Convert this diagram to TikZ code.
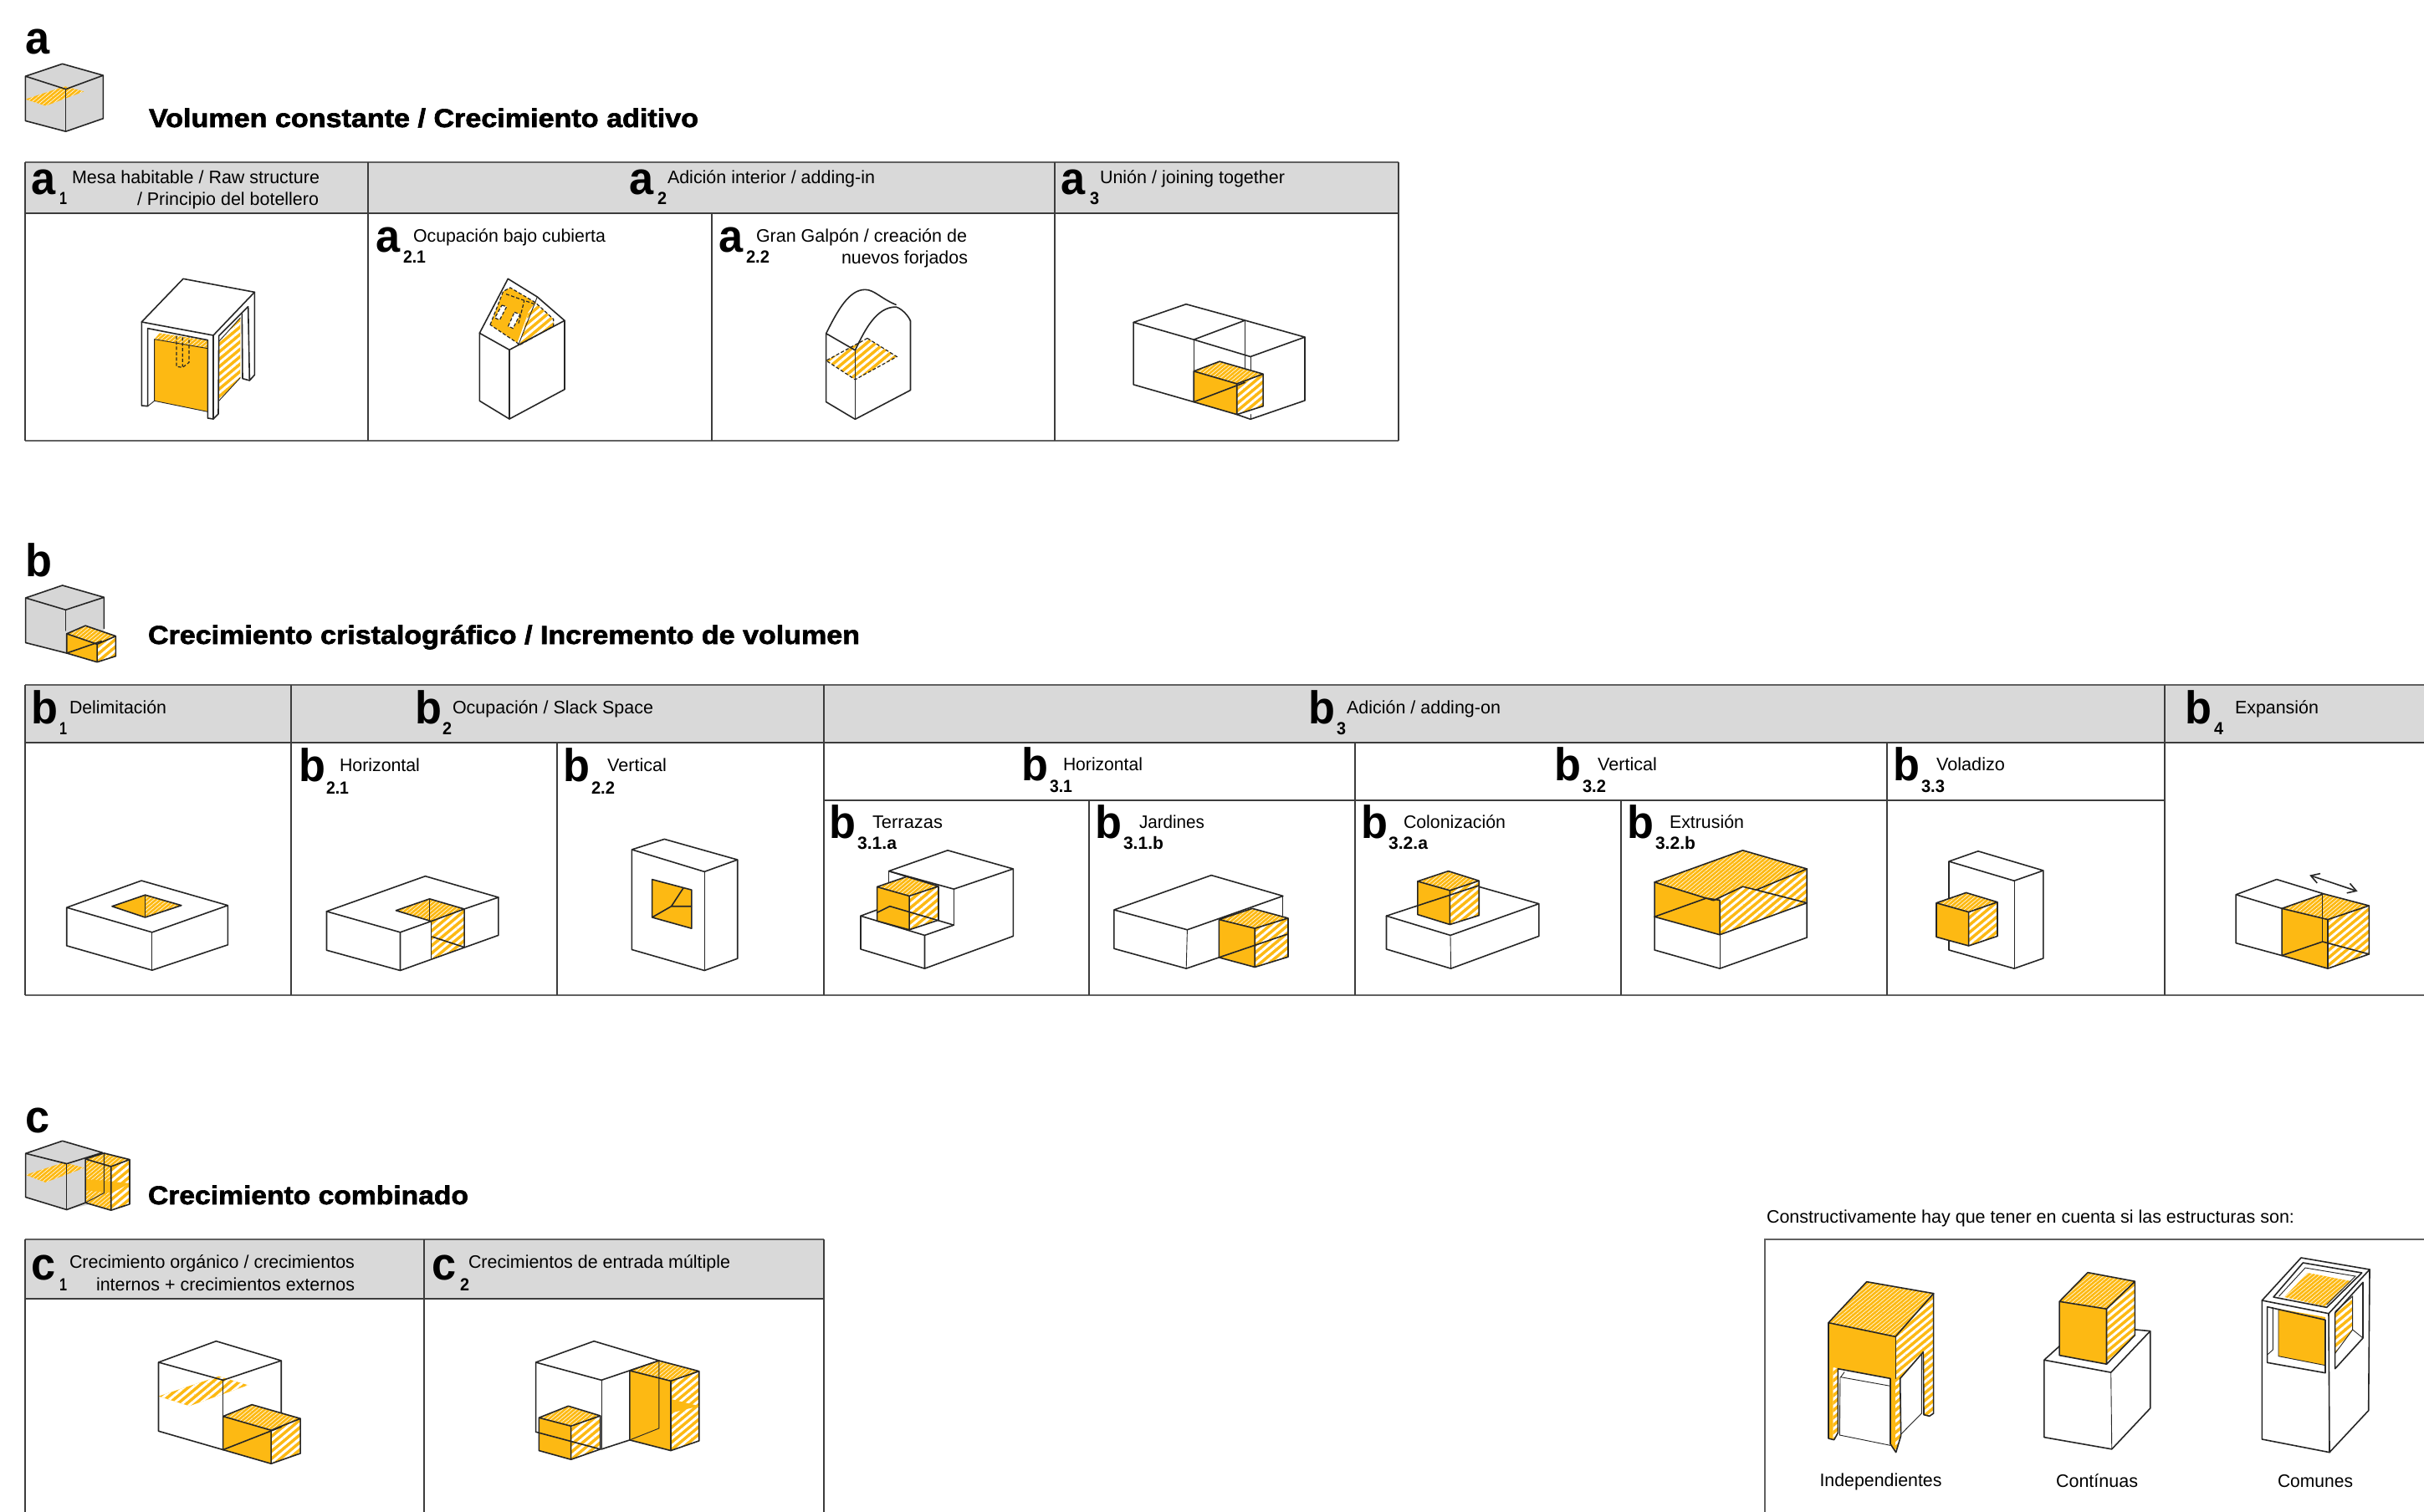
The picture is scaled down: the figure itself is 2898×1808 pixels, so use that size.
\documentclass[tikz,border=0pt]{standalone}
\usepackage{fontspec}
\usepackage{graphicx}
\setmainfont{Liberation Sans}
\newfontfamily\heavy[BoldFeatures={FakeBold=2}]{Liberation Sans}
\usetikzlibrary{patterns.meta,arrows.meta}
\definecolor{org}{HTML}{FDB913}
\definecolor{hdr}{HTML}{D9D9D9}
\definecolor{icn}{HTML}{D6D6D6}
\definecolor{rule}{HTML}{3C3C3C}
\definecolor{ink}{HTML}{262626}
\newlength\lw
\tikzset{
  z1/.style={x=.287pt,y=-.172pt},
  z2/.style={shift={(850,180)},x=.271pt,y=-.167pt},
  z3/.style={shift={(0,640)},x=.319pt,y=-.1785pt},
  z4/.style={shift={(980,800)},x=.306pt,y=-.1655pt},
  z5/.style={shift={(1920,800)},x=.312pt,y=-.1655pt},
  z6/.style={shift={(0,1290)},x=.319pt,y=-.1665pt},
  z7/.style={shift={(2080,1420)},x=.261pt,y=-.165pt},
  zt/.style={shift={(#1)},x=.16667pt,y=-.16667pt},
  ln/.style={draw=ink,line width=.8pt,line join=round,line cap=round},
  thn/.style={draw=ink,line width=.45pt,line cap=round},
  dsh/.style={draw=ink,line width=.6pt,dash pattern=on 2pt off 1.2pt},
  sol/.style={fill=org},
  hat/.style={preaction={fill=org},pattern={Lines[angle=40,distance=3.4pt,line width=1.5pt]},pattern color=white},
  tophat/.style={preaction={fill=org},pattern={Lines[angle=40,distance=1.8pt,line width=.3pt]},pattern color=white},
  grid/.style={draw=rule,line width=.7pt},
  gridh/.style={draw=black!62,line width=1.1pt},
  txt/.style={anchor=base west,inner sep=0pt,outer sep=0pt}
}
% label with a target width given in reference pixels
\newcommand\lbl[5]{\setlength\lw{#4pt}\lw=.5\lw
  \node[txt] (#1) at (#2,#3) {\resizebox{\lw}{\height}{\fontsize{10.8pt}{12pt}\selectfont #5}};}
\newcommand\hd[5]{\setlength\lw{#4pt}\lw=.5\lw
  \node[txt] (#1) at (#2,#3) {\resizebox{\lw}{\height}{\fontsize{15.5pt}{17pt}\selectfont\heavy\bfseries #5}};}
\newcommand\lett[4]{\node[txt,xshift=-1pt] (#1) at (#2,#3) {\scalebox{.95}[1]{\fontsize{27.5pt}{30pt}\selectfont\bfseries #4}};}
\newcommand\sub[5]{\setlength\lw{#4pt}\lw=.5\lw
  \node[txt,xshift=.5pt] (#1) at (#2,#3) {\resizebox{\lw}{\height}{\fontsize{10.5pt}{12pt}\selectfont\bfseries #5}};}
% cube: left-top, front-top, front-bottom, left-bottom, back-top, right-top, right-bottom
\newcommand\cubo[7]{
  \path[sol] #1--#2--#3--#4--cycle;
  \path[tophat] #1--#5--#6--#2--cycle;
  \path[hat] #2--#6--#7--#3--cycle;
  \draw[ln] #1--#2--#3--#4--cycle #1--#5--#6--#2 #6--#7--#3;
}
\begin{document}
\begin{tikzpicture}[x=.5pt,y=-.5pt]
\useasboundingbox (0,0) rectangle (2898,1808);
\fill[white] (0,0) rectangle (2898,1808);
% ---------- table a
\fill[hdr] (30,194) rectangle (1672,255);
\draw[gridh] (30,194) -- (1672,194) (30,527) -- (1672,527);
\draw[grid] (30,255) -- (1672,255) (30,194) -- (30,527) (1672,194) -- (1672,527)
  (440,194) -- (440,527) (1261,194) -- (1261,527) (851,255) -- (851,527);
% ---------- table b
\fill[hdr] (30,819) rectangle (2898,888);
\draw[gridh] (30,819) -- (2898,819) (30,1190) -- (2898,1190);
\draw[grid] (30,888) -- (2898,888) (985,957) -- (2588,957) (30,819) -- (30,1190)
  (348,819) -- (348,1190) (666,888) -- (666,1190) (985,819) -- (985,1190)
  (1302,957) -- (1302,1190) (1620,888) -- (1620,1190) (1938,957) -- (1938,1190)
  (2256,888) -- (2256,1190) (2588,819) -- (2588,1190);
% ---------- table c
\fill[hdr] (30,1482) rectangle (985,1553);
\draw[gridh] (30,1482) -- (985,1482);
\draw[grid] (30,1553) -- (985,1553) (30,1482) -- (30,1808) (507,1482) -- (507,1808) (985,1482) -- (985,1808);
% ---------- box
\draw[gridh] (2110,1808) -- (2110,1482) -- (2898,1482);

% ---------- texts a
\lett{ta}{32}{65}{a}
\hd{ha}{178}{152}{657}{Volumen constante / Crecimiento aditivo}
\lett{la1}{39}{233}{a}\sub{sa1}{70}{245}{9}{1}
\lbl{ta1a}{86}{220}{296}{Mesa habitable / Raw structure}
\lbl{ta1b}{164}{245.5}{217}{/ Principio del botellero}
\lett{la2}{754}{233}{a}\sub{sa2}{785}{245}{11}{2}
\lbl{ta2}{798}{220}{248}{Adición interior / adding-in}
\lett{la3}{1270}{233}{a}\sub{sa3}{1302}{245}{11}{3}
\lbl{ta3}{1315}{220}{221}{Unión / joining together}
\lett{la21}{451}{302}{a}\sub{sa21}{481}{315}{27}{2.1}
\lbl{ta21}{494}{290}{230}{Ocupación bajo cubierta}
\lett{la22}{861}{302}{a}\sub{sa22}{891}{315}{28}{2.2}
\lbl{ta22a}{904}{290}{252}{Gran Galpón / creación de}
\lbl{ta22b}{1006}{316}{151}{nuevos forjados}
% ---------- texts b
\lett{tb}{32}{689}{b}
\hd{hb}{177}{770}{851}{Crecimiento cristalográfico / Incremento de volumen}
\lett{lb1}{40}{865}{b}\sub{sb1}{70}{878}{9}{1}
\lbl{tb1}{83}{853}{116}{Delimitación}
\lett{lb2}{498}{865}{b}\sub{sb2}{528}{878}{11}{2}
\lbl{tb2}{541}{853}{240}{Ocupación / Slack Space}
\lett{lb21}{359}{934.5}{b}\sub{sb21}{389}{949}{27}{2.1}
\lbl{tb21}{406}{922}{96}{Horizontal}
\lett{lb22}{675}{934.5}{b}\sub{sb22}{706}{949}{28}{2.2}
\lbl{tb22}{726}{922}{71}{Vertical}
\lett{lb3}{1566}{865.5}{b}\sub{sb3}{1597}{878}{11}{3}
\lbl{tb3}{1610}{853}{184}{Adición / adding-on}
\lett{lb4}{2614}{865.5}{b}\sub{sb4}{2646}{878}{11}{4}
\lbl{tb4}{2672}{853}{100}{Expansión}
\lett{lb31}{1223}{933}{b}\sub{sb31}{1254}{947}{27}{3.1}
\lbl{tb31}{1271}{921}{95}{Horizontal}
\lett{lb32}{1860}{933}{b}\sub{sb32}{1891}{947}{28}{3.2}
\lbl{tb32}{1910}{921}{71}{Vertical}
\lett{lb33}{2265}{933}{b}\sub{sb33}{2296}{947}{28}{3.3}
\lbl{tb33}{2315}{921}{82}{Voladizo}
\lett{lb31a}{993}{1002}{b}\sub{sb31a}{1024}{1015}{47}{3.1.a}
\lbl{tb31a}{1043}{990}{84}{Terrazas}
\lett{lb31b}{1311}{1002}{b}\sub{sb31b}{1342}{1015}{48}{3.1.b}
\lbl{tb31b}{1362}{990}{78}{Jardines}
\lett{lb32a}{1629}{1002}{b}\sub{sb32a}{1659}{1015}{47}{3.2.a}
\lbl{tb32a}{1678}{990}{122}{Colonización}
\lett{lb32b}{1947}{1002}{b}\sub{sb32b}{1978}{1015}{48}{3.2.b}
\lbl{tb32b}{1996}{990}{89}{Extrusión}
% ---------- texts c
\lett{tc}{32}{1354}{c}
\hd{hc}{177}{1440}{383}{Crecimiento combinado}
\lett{lc1}{40}{1530}{c}\sub{sc1}{70}{1543}{9}{1}
\lbl{tc1a}{83}{1516}{341}{Crecimiento orgánico / crecimientos}
\lbl{tc1b}{115}{1543}{309}{internos + crecimientos externos}
\lett{lc2}{518}{1530}{c}\sub{sc2}{549}{1543}{11}{2}
\lbl{tc2}{560}{1516}{313}{Crecimientos de entrada múltiple}
% ---------- texts box
\lbl{tk}{2112}{1462}{631}{Constructivamente hay que tener en cuenta si las estructuras son:}
\lbl{tk1}{2175.5}{1777}{146}{Independientes}
\lbl{tk2}{2458}{1778}{98}{Contínuas}
\lbl{tk3}{2723}{1778}{90}{Comunes}

% ========== figures in zoom-1 frame
\begin{scope}[z1]
 % icon a
 \fill[icn] (53,265)--(130,222)--(215,262)--(215,412)--(137,457)--(53,420)--cycle;
 \path[tophat] (53,345)--(135,300)--(175,318)--(95,368)--cycle;
 \draw[ln] (53,265)--(130,222)--(215,262)--(137,310)--cycle (53,265)--(53,420)--(137,457)--(215,412)--(215,262);
 \draw[thn] (137,310)--(137,457);
\end{scope}
% a1 table, true-scale frame
\begin{scope}[zt={150,320}]
 \path[sol] (104,257)--(295,290)--(295,517)--(104,478)--cycle;
 \path[tophat] (104,257)--(122,235)--(295,262)--(295,290)--cycle;
 \path[hat] (335,265)--(412,180)--(412,395)--(335,478)--cycle;
 \draw[ln] (207,40)--(463,88)--(315,243)--(58,195)--cycle;
 \draw[ln] (58,195)--(58,495)--(80,497)--(80,218)--(295,260)--(295,540)--(315,543)--(333,525)--(335,245)--(440,140);
 \draw[ln] (315,243)--(315,543) (463,88)--(463,385)--(445,405)--(420,398)--(418,165) (440,140)--(445,405);
 \draw[thn] (104,257)--(295,290) (104,257)--(104,478)--(295,517) (80,497)--(104,478) (335,478)--(412,395) (335,265)--(412,180);
 \draw[dsh] (183,245)--(183,355)--(205,358)--(228,340)--(228,250) (205,250)--(205,355);
\end{scope}
% a2.1 house, true-scale frame
\begin{scope}[zt={560,320}]
 \path[sol] (78,205)--(125,85)--(150,72)--(240,125)--(215,160)--(175,270)--cycle;
 \path[hat] (240,125)--(305,185)--(305,210)--(183,278)--(215,160)--cycle;
 \fill[white] (120,135)--(137,140)--(112,188)--(95,180)--cycle (165,160)--(185,168)--(160,218)--(143,210)--cycle;
 \draw[dsh] (78,205)--(125,85)--(150,72)--(240,125)--(305,185)--(305,210)--(183,278)--(175,270)--cycle (135,95)--(235,130) (180,200)--(200,120);
 \draw[dsh] (120,135)--(137,140)--(112,188)--(95,180)--cycle (165,160)--(185,168)--(160,218)--(143,210)--cycle;
 \draw[ln] (147,543)--(40,478)--(40,235)--(147,295)--(345,190)--(345,437)--cycle;
 \draw[ln] (40,235)--(142,40)--(247,105)--(345,190);
 \draw[ln] (147,295)--(147,543);
 \draw[thn] (180,275)--(247,105);
\end{scope}
% ========== zoom-2 frame
\begin{scope}[z2]
 % a2.2 barn
 \path[hat] (345,672)--(410,738)--(318,820)--(254,752)--cycle;
 \draw[dsh] (345,672)--(410,738)--(318,820)--(254,752)--cycle;
 \draw[ln] (318,962)--(254,900)--(254,655)--(318,715) (318,962)--(440,858)--(440,610);
 \draw[ln] (254,655) .. controls (280,570) and (305,498) .. (340,498) .. controls (360,498) and (375,530) .. (408,552);
 \draw[ln] (318,715) .. controls (340,640) and (365,560) .. (408,560) .. controls (420,565) and (435,590) .. (440,610);
 \draw[thn] (318,715)--(318,962);
 % a3
 \draw[ln] (932,615)--(1048,550)--(1178,608)--(1310,668)--(1190,738)--(1065,677)--cycle (1065,677)--(1178,608);
 \draw[ln] (932,615)--(932,838)--(1065,900) (1310,668)--(1310,895)--(1190,962)--(1160,945);
 \draw[thn] (1065,677)--(1065,900) (1190,738)--(1190,835) (1178,608)--(1178,815) (1190,945)--(1190,962);
 \cubo{(1065,790)}{(1160,835)}{(1160,945)}{(1065,900)}{(1122,755)}{(1218,800)}{(1218,915)}
 \draw[ln] (1065,900)--(1178,830);
\end{scope}
% ========== zoom-3 frame
\begin{scope}[z3]
 % icon b
 \fill[icn] (48,210)--(117,168)--(195,208)--(195,330)--(125,395)--(48,360)--cycle;
 \draw[ln] (48,210)--(117,168)--(195,208)--(123,250)--cycle (48,210)--(48,360)--(125,395) (195,208)--(195,312);
 \draw[thn] (123,250)--(123,320);
 \cubo{(125,330)}{(182,365)}{(182,425)}{(125,395)}{(160,303)}{(217,338)}{(217,405)}
 \draw[ln] (125,395)--(190,355);
 % b1
 \path[sol] (272,1205)--(272,1280)--(210,1243)--cycle;
 \path[tophat] (272,1205)--(340,1240)--(272,1280)--cycle;
 \draw[ln] (272,1205)--(340,1240)--(272,1280)--(210,1243)--cycle;
 \draw[thn] (272,1205)--(272,1280) (285,1330)--(285,1457);
 \draw[ln] (265,1157)--(427,1240)--(285,1330)--(125,1247)--cycle (125,1247)--(125,1375)--(285,1457)--(427,1372)--(427,1240);
 % b2.1
 \path[tophat] (805,1218)--(870,1252)--(808,1293)--(742,1257)--cycle;
 \path[hat] (808,1293)--(870,1252)--(870,1380)--(808,1418)--cycle;
 \draw[ln] (612,1260)--(797,1142)--(934,1213)--(870,1252)--(805,1218)--(742,1257)--(808,1293)--(750,1330)--cycle;
 \draw[ln] (612,1260)--(612,1390)--(750,1458)--(750,1330) (750,1458)--(934,1340)--(934,1213) (808,1293)--(870,1252)--(870,1380);
 \draw[thn] (808,1293)--(808,1418) (805,1218)--(805,1293);
 \draw[ln] (810,1345)--(870,1380);
 % b2.2
 \path[sol] (1222,1153)--(1296,1188)--(1296,1317)--(1222,1280)--cycle;
 \draw[ln] (1222,1153)--(1296,1188)--(1296,1317)--(1222,1280)--cycle (1222,1280)--(1258,1243)--(1296,1243) (1258,1243)--(1280,1183);
 \draw[ln] (1245,1018)--(1382,1087)--(1320,1127)--(1184,1053)--cycle (1184,1053)--(1184,1388)--(1320,1458)--(1382,1418)--(1382,1087);
 \draw[thn] (1320,1127)--(1320,1458);
\end{scope}
% ========== zoom-4 frame
\begin{scope}[z4]
 % terrazas
 \draw[ln] (135,730)--(250,655)--(378,722)--(262,795)--cycle (378,722)--(378,965)--(205,1082)--(80,1012)--(80,892)--(205,962)--(205,1082) (205,962)--(262,925);
 \draw[ln] (262,795)--(262,925);
 \draw[thn] (135,730)--(135,790);
 \draw[ln] (80,892)--(112,870);
 \cubo{(112,787)}{(175,820)}{(175,942)}{(112,910)}{(170,750)}{(232,785)}{(232,907)}
 \draw[ln] (112,880)--(137,857)--(262,925) (135,730)--(170,750);
 % jardines
 \draw[ln] (575,870)--(765,745)--(905,820)--(718,942)--cycle (575,870)--(575,1010)--(716,1082)--(780,1042);
 \draw[thn] (905,820)--(905,890);
 \draw[thn] (718,942)--(716,1082);
 \cubo{(780,905)}{(850,937)}{(850,1077)}{(780,1042)}{(845,865)}{(915,900)}{(915,1040)}
 \draw[ln] (780,1042)--(915,957);
 % colonizacion
 \draw[ln] (1107,892)--(1232,962)--(1405,848)--(1285,785) (1107,892)--(1107,1012)--(1233,1082)--(1405,965)--(1405,848);
 \draw[thn] (1232,962)--(1233,1082);
 \cubo{(1168,767)}{(1231,800)}{(1231,923)}{(1168,887)}{(1228,730)}{(1288,765)}{(1288,890)}
 \draw[ln] (1107,892)--(1288,782);
\end{scope}
% ========== zoom-5 frame
\begin{scope}[z5]
 % extrusion
 \draw[ln] (93,895)--(93,1015)--(218,1082)--(385,970)--(385,845);
 \draw[thn] (218,960)--(218,1082);
 \path[sol] (93,770)--(192,828)--(218,835)--(218,960)--(93,895)--cycle;
 \path[hat] (218,835)--(206,836)--(262,786)--(288,798)--(385,722)--(385,845)--(218,960)--cycle;
 \path[tophat] (93,770)--(262,655)--(385,722)--(288,798)--(262,786)--(206,836)--(192,828)--cycle;
 \draw[ln] (93,770)--(262,655)--(385,722)--(288,798)--(262,786)--(206,836)--(192,828)--cycle;
 \draw[ln] (93,770)--(93,895)--(218,960)--(385,845)--(385,722) (192,828)--(218,835)--(218,960);
 \draw[ln] (93,895)--(192,828) (288,798)--(385,845);
 % voladizo
 \draw[ln] (657,695)--(713,658)--(838,728)--(782,765)--cycle (657,695)--(657,1015)--(782,1082)--(838,1045)--(838,728);
 \draw[thn] (782,765)--(782,1082);
 \cubo{(633,845)}{(695,878)}{(695,1000)}{(633,968)}{(690,808)}{(750,842)}{(750,965)}
 % expansion
 \draw[ln] (1207,815)--(1285,760)--(1375,812) (1207,815)--(1295,865) (1207,815)--(1207,990)--(1295,1035);
 \cubo{(1295,865)}{(1383,905)}{(1383,1082)}{(1295,1035)}{(1375,812)}{(1462,855)}{(1462,1030)}
 \draw[thn] (1373,812)--(1373,985);
 \draw[ln] (1295,1035)--(1373,985)--(1462,1030);
 \coordinate (arrA) at (1348,745);
 \coordinate (arrB) at (1440,803);
 \draw[ln,{Straight Barb[length=5pt,width=6pt]}-{Straight Barb[length=5pt,width=6pt]}] (arrA)--(arrB);
\end{scope}
% ========== zoom-6 frame
\begin{scope}[z6]
 % icon c
 \fill[icn] (48,268)--(117,223)--(192,265)--(192,440)--(125,470)--(48,425)--cycle;
 \path[tophat] (48,345)--(120,300)--(158,320)--(85,372)--cycle;
 \draw[ln] (48,268)--(117,223)--(192,265)--(125,305)--cycle (48,268)--(48,425)--(125,470)--(160,445);
 \draw[thn] (125,305)--(125,470);
 \path[tophat] (160,288)--(208,315)--(208,472)--(160,445)--cycle;
 \path[tophat] (160,288)--(195,267)--(243,290)--(208,315)--cycle;
 \path[hat] (208,315)--(243,290)--(243,450)--(208,472)--cycle;
 \path[sol] (160,360)--(243,375)--(210,410)--(160,400)--cycle;
 \draw[ln] (160,288)--(208,315)--(208,472)--(160,445)--cycle (160,288)--(195,267)--(243,290)--(208,315) (243,290)--(243,450)--(208,472);
 \draw[thn] (195,267)--(195,410)--(160,445);
 % c1
 \path[hat] (297,1140)--(410,1068)--(465,1100)--(355,1175)--cycle;
 \draw[ln] (297,1018)--(405,942)--(527,1012)--(418,1082)--cycle (297,1018)--(297,1265)--(418,1332) (527,1012)--(527,1225);
 \draw[thn] (418,1082)--(418,1212);
 \cubo{(418,1212)}{(508,1262)}{(508,1382)}{(418,1332)}{(472,1170)}{(563,1220)}{(563,1345)}
 \draw[ln] (418,1332)--(527,1250);
 % c2
 \draw[ln] (1004,1018)--(1113,942)--(1235,1012) (1235,1012)--(1127,1082)--(1004,1018) (1004,1018)--(1004,1268) (1127,1330)--(1180,1297);
 \draw[thn] (1127,1082)--(1127,1330);
 \cubo{(1180,1048)}{(1257,1085)}{(1257,1335)}{(1180,1297)}{(1235,1012)}{(1310,1050)}{(1310,1300)}
 \path[sol] (1257,1150)--(1310,1175)--(1257,1200)--cycle;
 \draw[thn] (1235,1012)--(1235,1255)--(1180,1297);
 \draw[ln] (1257,1085)--(1257,1335);
 \cubo{(1010,1217)}{(1070,1247)}{(1070,1367)}{(1010,1335)}{(1065,1175)}{(1125,1210)}{(1125,1330)}
 \draw[ln] (1004,1268)--(1125,1330);
\end{scope}
% independientes, true-scale frame
\begin{scope}[zt={2170,1520}]
 \path[tophat] (185,38)--(425,80)--(288,235)--(48,185)--cycle;
 \path[sol] (48,185)--(288,235)--(288,650)--(270,620)--(270,385)--(65,345)--(65,605)--(48,600)--cycle;
 \path[hat] (288,235)--(425,80)--(425,510)--(410,520)--(390,515)--(388,290)--(305,385)--(308,590)--(290,650)--(288,650)--cycle;
 \path[hat] (65,345)--(82,350)--(82,580)--(68,605)--(65,605)--cycle;
 \draw[ln] (185,38)--(425,80)--(288,235)--(48,185)--cycle;
 \draw[ln] (48,185)--(48,600)--(68,605)--(82,580)--(82,350)--(270,385)--(270,620)--(290,650)--(308,590)--(305,385)--(388,290)--(390,515)--(410,520)--(425,510)--(425,80);
 \draw[thn] (288,235)--(288,385);
 \draw[thn] (92,380)--(105,362) (92,380)--(270,412) (90,380)--(88,588)--(270,625) (308,585)--(382,510)--(382,300);
\end{scope}
% ========== zoom-7 frame
\begin{scope}[z7]
 % continuas
 \draw[ln] (697,625)--(850,670)--(940,520)--(905,515) (697,625)--(732,575) (697,625)--(697,905)--(852,948)--(940,800)--(940,520);
 \draw[thn] (850,670)--(852,948);
 \cubo{(732,413)}{(840,440)}{(840,640)}{(732,608)}{(797,308)}{(905,340)}{(905,535)}
\end{scope}
% comunes, true-scale frame
\begin{scope}[zt={2690,1540}]
 \path[sol] (102,75)--(270,105)--(270,278)--(102,245)--cycle;
 \path[tophat] (123,33)--(207,-54)--(363,-24)--(268,66)--cycle;
 \path[hat] (305,85)--(368,30)--(368,150)--(305,235)--cycle;
 \draw[ln] (43,45)--(183,-108)--(429,-66)--(282,92)--cycle;
 \draw[ln] (43,45)--(43,543)--(285,590)--(425,440)--(429,-66);
 \draw[ln] (282,92)--(285,590);
 \draw[ln] (62,68)--(270,115)--(270,305)--(62,268)--cycle;
 \draw[ln] (84,33)--(190,-90)--(401,-54)--(275,70)--cycle;
 \draw[thn] (104,30)--(198,-72)--(378,-42)--(275,60);
 \draw[thn] (102,75)--(102,245)--(270,278);
 \draw[thn] (82,70)--(82,222)--(62,240);
 \draw[ln] (305,90)--(405,-20)--(405,180)--(305,290)--cycle;
 \draw[thn] (305,85)--(368,30)--(368,150)--(305,235) (368,150)--(405,180);
\end{scope}
\end{tikzpicture}
\end{document}
